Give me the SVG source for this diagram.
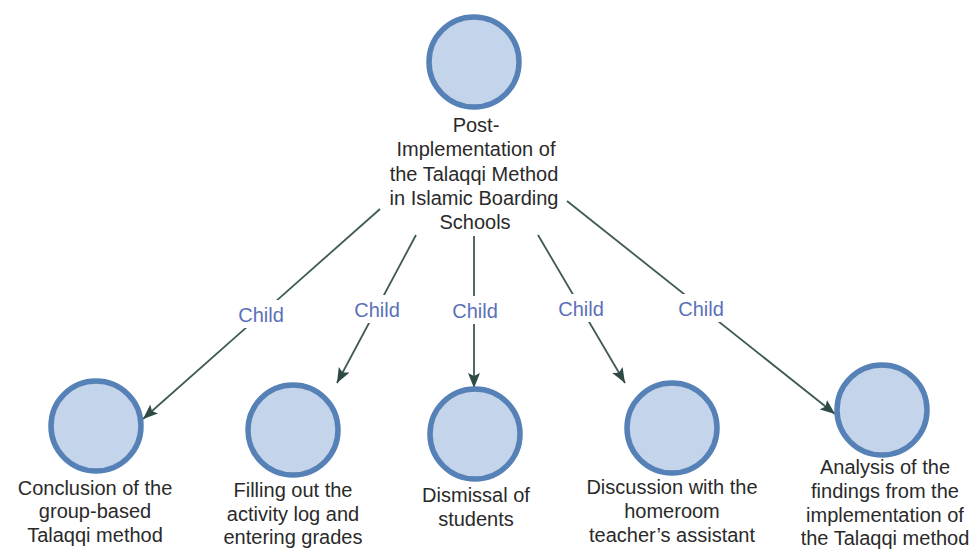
<svg xmlns="http://www.w3.org/2000/svg" width="977" height="549" viewBox="0 0 977 549">
<style>
.node circle{fill:#c4d4ea;stroke:#5581b7;stroke-width:5.5}
.node text{font-family:"Liberation Sans",Arial,sans-serif;font-size:20px;fill:#2a2a2a;text-anchor:middle}
.edge line{stroke:#3e5956;stroke-width:1.8;fill:none}
.lbl rect{fill:#fff}
.lbl text{font-family:"Liberation Sans",Arial,sans-serif;font-size:20px;fill:#5a70b8;text-anchor:middle}
</style>
<defs>
<marker id="arr" markerUnits="userSpaceOnUse" markerWidth="16" markerHeight="12" viewBox="0 0 16 12" refX="15" refY="6" orient="auto">
<path d="M0,0 L15,6 L0,12 L3,6 Z" fill="#2e4a47"/>
</marker>
</defs>
<rect width="977" height="549" fill="#fff"/>
<g id="connectors">
<g class="edge"><line x1="380" y1="209" x2="143" y2="419" marker-end="url(#arr)"/></g>
<g class="edge"><line x1="416" y1="235" x2="337" y2="383" marker-end="url(#arr)"/></g>
<g class="edge"><line x1="474" y1="236" x2="474" y2="388" marker-end="url(#arr)"/></g>
<g class="edge"><line x1="538" y1="235" x2="625" y2="383" marker-end="url(#arr)"/></g>
<g class="edge"><line x1="567" y1="201" x2="835" y2="414" marker-end="url(#arr)"/></g>
<g class="lbl"><rect x="235" y="300" width="52" height="28"/><text x="261" y="322">Child</text></g>
<g class="lbl"><rect x="351" y="295" width="52" height="28"/><text x="377" y="317">Child</text></g>
<g class="lbl"><rect x="449" y="296" width="52" height="28"/><text x="475" y="318">Child</text></g>
<g class="lbl"><rect x="555" y="294" width="52" height="28"/><text x="581" y="316">Child</text></g>
<g class="lbl"><rect x="675" y="294" width="52" height="28"/><text x="701" y="316">Child</text></g>
</g>
<g id="root" class="node">
<circle cx="474" cy="62" r="45"/>
<text x="476" y="132">Post-</text>
<text x="476" y="156">Implementation of</text>
<text x="474" y="181">the Talaqqi Method</text>
<text x="474" y="205">in Islamic Boarding</text>
<text x="475" y="229">Schools</text>
</g>
<g id="n1" class="node">
<circle cx="96" cy="426" r="45"/>
<text x="95" y="495">Conclusion of the</text>
<text x="95" y="518">group-based</text>
<text x="95" y="542">Talaqqi method</text>
</g>
<g id="n2" class="node">
<circle cx="293" cy="430" r="45"/>
<text x="293" y="497">Filling out the</text>
<text x="293" y="521">activity log and</text>
<text x="293" y="544">entering grades</text>
</g>
<g id="n3" class="node">
<circle cx="475" cy="434" r="45"/>
<text x="476" y="502">Dismissal of</text>
<text x="476" y="526">students</text>
</g>
<g id="n4" class="node">
<circle cx="672" cy="428" r="45"/>
<text x="672" y="494">Discussion with the</text>
<text x="672" y="518">homeroom</text>
<text x="672" y="542">teacher’s assistant</text>
</g>
<g id="n5" class="node">
<circle cx="882" cy="410" r="45"/>
<text x="885" y="474">Analysis of the</text>
<text x="885" y="498">findings from the</text>
<text x="885" y="522">implementation of</text>
<text x="885" y="545">the Talaqqi method</text>
</g>
</svg>
